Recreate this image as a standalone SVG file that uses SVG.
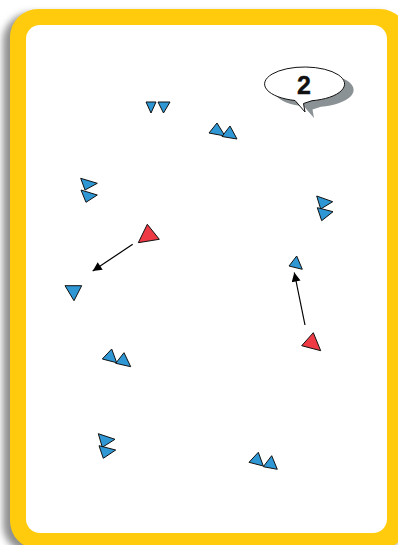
<svg xmlns="http://www.w3.org/2000/svg" width="398" height="545" viewBox="0 0 398 545">
<style>
.blue{fill:#2E97D4;stroke:#111;stroke-width:1;stroke-linejoin:round}
.red{fill:#EE3A44;stroke:#111;stroke-width:1;stroke-linejoin:round}
.conn{stroke:#000;stroke-width:1.2;fill:none}
</style>
<defs>
<filter id="sh" x="-10%" y="-10%" width="120%" height="120%"><feGaussianBlur stdDeviation="3.5"/></filter>
<filter id="sb" x="-20%" y="-20%" width="140%" height="140%"><feGaussianBlur stdDeviation="0.5"/></filter>
<marker id="ah" viewBox="0 0 10 10" refX="10" refY="5" markerWidth="10" markerHeight="9" markerUnits="userSpaceOnUse" orient="auto"><path d="M0,0 L10,5 L0,10 z" fill="#000"/></marker>
</defs>
<rect x="0" y="0" width="398" height="545" fill="#fff"/>
<g id="card">
<rect x="3" y="13" width="400" height="540" rx="28" fill="#8f8f8f" filter="url(#sh)"/>
<rect x="10" y="9" width="398" height="540" rx="28" fill="#FFCB0C"/>
<rect x="26" y="25" width="361" height="508" rx="14" fill="#fff"/>
</g>
<g id="bubble">
<path transform="translate(9,6)" d="M295,100.5 A40,17 0 1 1 312,100.7 L303.5,103.5 L305,112 Z" fill="#8b9295" filter="url(#sb)"/>
<path d="M295,100.5 A40,17 0 1 1 312,100.7 L303.5,103.5 L305,112 Z" fill="#fff" stroke="#111" stroke-width="1"/>
<text x="304" y="94" font-family="Liberation Sans, Arial, sans-serif" font-weight="bold" font-size="25" text-anchor="middle" fill="#111" stroke="#111" stroke-width="0.4">2</text>
</g>
<g id="connectors">
<line class="conn" x1="132.7" y1="244.3" x2="92.7" y2="271" marker-end="url(#ah)"/>
<line class="conn" x1="305" y1="325" x2="294.3" y2="272.5" marker-end="url(#ah)"/>
</g>
<g id="pair-top">
<polygon class="blue" points="146,102 156,102 151,113"/>
<polygon class="blue" points="158,102 170,102 163.5,113"/>
</g>
<g id="pair-top-right">
<polygon class="blue" points="217,123 209,133 225,136"/>
<polygon class="blue" points="230,126 222,136.5 237,139"/>
</g>
<g id="pair-left">
<polygon class="blue" points="80.7,178.3 97.3,183.3 85,190"/>
<polygon class="blue" points="81,190 97.3,195 86,202.3"/>
</g>
<g id="pair-right">
<polygon class="blue" points="316.7,196 332.7,201.7 320.7,209"/>
<polygon class="blue" points="317.3,207.7 333,211.7 321.7,220.7"/>
</g>
<g id="red-left">
<polygon class="red" points="147.3,224.3 138.3,242.7 159.3,239.3"/>
</g>
<g id="blue-left">
<polygon class="blue" points="65,285.7 81.7,285.7 74,300.7"/>
</g>
<g id="blue-right">
<polygon class="blue" points="296.7,256 289,266 302.3,269.3"/>
</g>
<g id="red-right">
<polygon class="red" points="313.3,332.7 301.7,345.7 320.7,350.7"/>
</g>
<g id="pair-mid-left">
<polygon class="blue" points="111.7,349 102.3,359 116.7,362.7"/>
<polygon class="blue" points="124,352.7 115.7,363.3 130.7,366.7"/>
</g>
<g id="pair-bottom-left">
<polygon class="blue" points="98.3,433.7 115,439.3 102.3,447.3"/>
<polygon class="blue" points="99,445.7 115.7,450 103.3,458.3"/>
</g>
<g id="pair-bottom-right">
<polygon class="blue" points="258.3,452.3 249,462.3 263.3,466"/>
<polygon class="blue" points="271.7,455.7 263.3,466.7 277.3,469.3"/>
</g>
</svg>
